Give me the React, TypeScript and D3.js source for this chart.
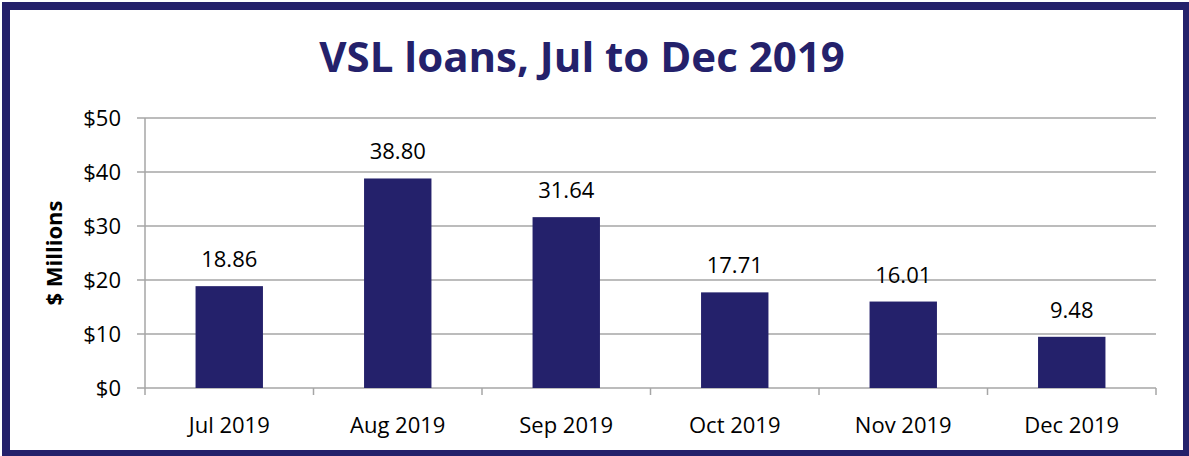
import React, { useEffect, useRef } from "react";
import * as d3 from "d3";

const months = ["Jul 2019", "Aug 2019", "Sep 2019", "Oct 2019", "Nov 2019", "Dec 2019"];
const loans = [18.86, 38.8, 31.64, 17.71, 16.01, 9.48];
const yTicks = [0, 10, 20, 30, 40, 50];

const NAVY = "#24216b";
const GRID = "#a6a6a6";
const FONT = "'Open Sans', sans-serif";

const App = () => {
  const svgRef = useRef<SVGSVGElement>(null);

  useEffect(() => {
    const width = 1189;
    const height = 456;
    const margin = { top: 118, right: 33, bottom: 68, left: 145 };
    const innerW = width - margin.left - margin.right;
    const innerH = height - margin.top - margin.bottom;

    const svg = d3.select(svgRef.current);
    svg.selectAll("*").remove();
    svg.attr("width", width).attr("height", height);

    // frame
    svg
      .append("rect")
      .attr("x", 6)
      .attr("y", 6)
      .attr("width", width - 8)
      .attr("height", height - 8)
      .attr("fill", "white")
      .attr("stroke", NAVY)
      .attr("stroke-width", 8);

    svg
      .append("text")
      .attr("x", 582)
      .attr("y", 72)
      .attr("text-anchor", "middle")
      .style("font-family", FONT)
      .style("font-size", "42px")
      .style("font-weight", "bold")
      .style("fill", NAVY)
      .text("VSL loans, Jul to Dec 2019");

    const g = svg.append("g").attr("transform", `translate(${margin.left}, ${margin.top})`);

    const x = d3.scaleBand().domain(months).range([0, innerW]).paddingInner(0.6).paddingOuter(0.3);
    const xOuter = d3.scaleBand().domain(months).range([0, innerW]);
    const y = d3.scaleLinear().domain([0, 50]).range([innerH, 0]);

    // grid lines + y ticks
    g.selectAll(".grid")
      .data(yTicks)
      .enter()
      .append("line")
      .attr("x1", -8)
      .attr("x2", innerW)
      .attr("y1", (d) => y(d))
      .attr("y2", (d) => y(d))
      .attr("stroke", GRID)
      .attr("stroke-width", 1.5);

    g.selectAll(".ylab")
      .data(yTicks)
      .enter()
      .append("text")
      .attr("x", -24)
      .attr("y", (d) => y(d))
      .attr("dy", "0.36em")
      .attr("text-anchor", "end")
      .style("font-family", FONT)
      .style("font-size", "22px")
      .style("fill", "#000")
      .text((d) => `$${d}`);

    // y axis line
    g.append("line")
      .attr("x1", 0)
      .attr("x2", 0)
      .attr("y1", 0)
      .attr("y2", innerH + 7)
      .attr("stroke", GRID)
      .attr("stroke-width", 1.5);

    // x category ticks
    const tickXs = months.map((m) => (xOuter(m) as number) + xOuter.bandwidth());
    g.selectAll(".xtick")
      .data(tickXs)
      .enter()
      .append("line")
      .attr("x1", (d) => d)
      .attr("x2", (d) => d)
      .attr("y1", innerH)
      .attr("y2", innerH + 7)
      .attr("stroke", GRID)
      .attr("stroke-width", 1.5);

    g.selectAll(".bar")
      .data(loans)
      .enter()
      .append("rect")
      .attr("x", (d, i) => x(months[i]) as number)
      .attr("y", (d) => y(d))
      .attr("width", x.bandwidth())
      .attr("height", (d) => innerH - y(d))
      .attr("fill", NAVY);

    g.selectAll(".val")
      .data(loans)
      .enter()
      .append("text")
      .attr("x", (d, i) => (x(months[i]) as number) + x.bandwidth() / 2)
      .attr("y", (d) => y(d) - 19)
      .attr("text-anchor", "middle")
      .style("font-family", FONT)
      .style("font-size", "22px")
      .style("fill", "#000")
      .text((d) => d.toFixed(2));

    g.selectAll(".xlab")
      .data(months)
      .enter()
      .append("text")
      .attr("x", (d) => (xOuter(d) as number) + xOuter.bandwidth() / 2)
      .attr("y", innerH + 45)
      .attr("text-anchor", "middle")
      .style("font-family", FONT)
      .style("font-size", "22px")
      .style("fill", "#000")
      .text((d) => d);

    svg
      .append("text")
      .attr("transform", `translate(62, ${margin.top + innerH / 2}) rotate(-90)`)
      .attr("text-anchor", "middle")
      .style("font-family", FONT)
      .style("font-size", "22px")
      .style("font-weight", "bold")
      .style("fill", "#000")
      .text("$ Millions");
  }, []);

  return <svg ref={svgRef} style={{ position: "absolute", left: 0, top: 0 }}></svg>;
};

export default App;
